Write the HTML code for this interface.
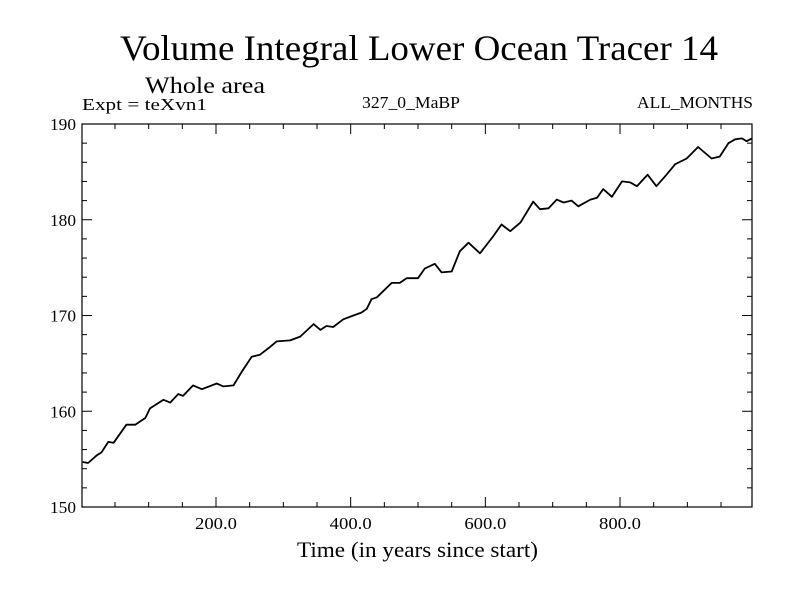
<!DOCTYPE html>
<html><head><meta charset="utf-8"><style>
html,body{margin:0;padding:0;background:#fff;}
svg{display:block;font-family:"Liberation Serif",serif;}
</style></head><body>
<svg id="chart" width="800" height="600" viewBox="0 0 800 600">
<text x="120" y="60" font-size="36" textLength="598" lengthAdjust="spacingAndGlyphs">Volume Integral Lower Ocean Tracer 14</text>
<text x="145" y="93" font-size="23" textLength="120" lengthAdjust="spacingAndGlyphs">Whole area</text>
<text x="82" y="110" font-size="17" textLength="125" lengthAdjust="spacingAndGlyphs">Expt = teXvn1</text>
<text x="362" y="108" font-size="17" textLength="98" lengthAdjust="spacingAndGlyphs">327_0_MaBP</text>
<text x="637" y="108" font-size="17" textLength="116" lengthAdjust="spacingAndGlyphs">ALL_MONTHS</text>
<text x="297" y="557" font-size="22" textLength="241" lengthAdjust="spacingAndGlyphs">Time (in years since start)</text>
<g id="axes"></g>
<path id="series" fill="none" stroke="#000" stroke-width="1.8" stroke-linejoin="round"></path>
<rect x="82" y="124" width="670" height="383" fill="none" stroke="#000" stroke-width="1.2"></rect>
</svg>
<script>
const times = [2,10,23,30,40,48,67,80,95,102,122,132,144,151,166,179,201,211,226,238,253,265,280,290,310,325,345,355,364,374,389,404,416,424,431,439,461,473,483,500,510,525,535,550,562,575,592,612,624,637,652,671,681,694,706,716,728,738,756,766,775,788,803,815,825,841,854,869,882,899,916,936,948,961,971,981,988,996];
const values = [154.7,154.6,155.4,155.7,156.8,156.7,158.6,158.6,159.3,160.3,161.2,160.9,161.8,161.6,162.7,162.3,162.9,162.6,162.7,164.1,165.7,165.9,166.7,167.3,167.4,167.8,169.1,168.5,168.9,168.8,169.6,170.0,170.3,170.7,171.7,171.9,173.4,173.4,173.9,173.9,174.9,175.4,174.5,174.6,176.7,177.6,176.5,178.3,179.5,178.8,179.7,181.9,181.1,181.2,182.1,181.8,182.0,181.4,182.1,182.3,183.2,182.4,184.0,183.9,183.5,184.7,183.5,184.7,185.8,186.4,187.6,186.4,186.6,188.0,188.4,188.5,188.2,188.5];
const xTicks = [200,400,600,800];
const xTickLabels = ["200.0","400.0","600.0","800.0"];
const yTicks = [150,160,170,180,190];
const yTickLabels = ["150","160","170","180","190"];

const X0=82, X1=752, Y0=507, Y1=124, XMIN=1, XMAX=996, YMIN=150, YMAX=190;
const sx = t => X0 + (t-XMIN)/(XMAX-XMIN)*(X1-X0);
const sy = v => Y0 - (v-YMIN)/(YMAX-YMIN)*(Y0-Y1);
const NS="http://www.w3.org/2000/svg";
const ax=document.getElementById('axes');
function line(x1,y1,x2,y2,name){
  const l=document.createElementNS(NS,'line');
  l.setAttribute('x1',x1);l.setAttribute('y1',y1);l.setAttribute('x2',x2);l.setAttribute('y2',y2);
  l.setAttribute('stroke','#000');l.setAttribute('stroke-width','1');
  
  
  ax.appendChild(l);
}
function text(x,y,s,anchor,len,name){
  const t=document.createElementNS(NS,'text');
  t.setAttribute('x',x);t.setAttribute('y',y);t.setAttribute('font-size','17');
  t.setAttribute('text-anchor',anchor);t.textContent=s;
  t.setAttribute('textLength',len);t.setAttribute('lengthAdjust','spacingAndGlyphs');
  
  
  ax.appendChild(t);
}
for(let t=50;t<XMAX;t+=50){
  const major = t%200===0;
  const x=sx(t), L=major?10:5;
  line(x,Y0,x,Y0-L,'x-tick');
  line(x,Y1,x,Y1+L,'x-tick-top');
}
xTicks.forEach((t,i)=>text(sx(t),529,xTickLabels[i],'middle',42,'x-tick-label'));
for(let v=YMIN;v<=YMAX;v+=2){
  const major = v%10===0;
  const y=sy(v), L=major?10:5;
  line(X0,y,X0+L,y,'y-tick');
  line(X1,y,X1-L,y,'y-tick-right');
}
yTicks.forEach((v,i)=>text(76,sy(v)+6,yTickLabels[i],'end',26,'y-tick-label'));
document.getElementById('series').setAttribute('d', times.map((t,i)=>(i?'L':'M')+sx(t).toFixed(1)+','+sy(values[i]).toFixed(1)).join(''));
</script>
</body></html>
